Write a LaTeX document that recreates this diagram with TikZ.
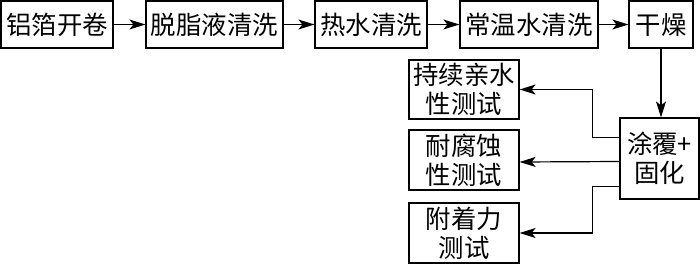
\documentclass[tikz,border=0pt]{standalone}
\usepackage{fontspec}
\newfontfamily\cjk{Noto Sans CJK SC}
\usepackage{tikz}
\usetikzlibrary{arrows.meta,positioning,calc}

\begin{document}
\begin{tikzpicture}[x=1bp,y=1bp,
    procbox/.style={draw,line width=1.2bp,inner sep=0pt,align=center,
        font=\cjk\fontsize{25.5}{29.5}\selectfont},
    arr/.style={line width=1.2bp,-{Stealth[length=16bp,width=10bp,inset=4bp]}}]
    \useasboundingbox (0,0) rectangle (700,264);
    % main line
    \node[procbox,minimum width=112bp,minimum height=47bp] (foil) at (57,239.5) {铝箔开卷};
    \node[procbox,minimum width=137bp,minimum height=47bp] (degrease) at (214.5,239.5) {脱脂液清洗};
    \node[procbox,minimum width=112bp,minimum height=47bp] (hotwash) at (371,239.5) {热水清洗};
    \node[procbox,minimum width=138bp,minimum height=47bp] (coldwash) at (529,239.5) {常温水清洗};
    \node[procbox,minimum width=64bp,minimum height=47bp] (dry) at (661,239.5) {干燥};
    \node[procbox,minimum width=79bp,minimum height=81bp] (coat) at (659.5,105.5) {涂覆+\\固化};
    % tests
    \node[procbox,minimum width=110bp,minimum height=59bp] (hydro) at (464,174.5) {持续亲水\\性测试};
    \node[procbox,minimum width=110bp,minimum height=60bp] (corr) at (464,104) {耐腐蚀\\性测试};
    \node[procbox,minimum width=110bp,minimum height=60bp] (adhes) at (464,31) {附着力\\测试};
    \draw[arr] (foil) -- (degrease);
    \draw[arr] (degrease) -- (hotwash);
    \draw[arr] (hotwash) -- (coldwash);
    \draw[arr] (coldwash) -- (dry);
    \draw[arr] (dry.south) -- (dry.south |- coat.north);
    \draw[arr] ($(coat.west)+(0,21)$) -- ++(-27,0) |- (hydro.east);
    \draw[arr] ($(coat.west)+(0,-3)$) -- ($(corr.east)+(0,-2)$);
    \draw[arr] ($(coat.west)+(0,-28)$) -- ++(-27,0) |- (adhes.east);
\end{tikzpicture}
\end{document}
